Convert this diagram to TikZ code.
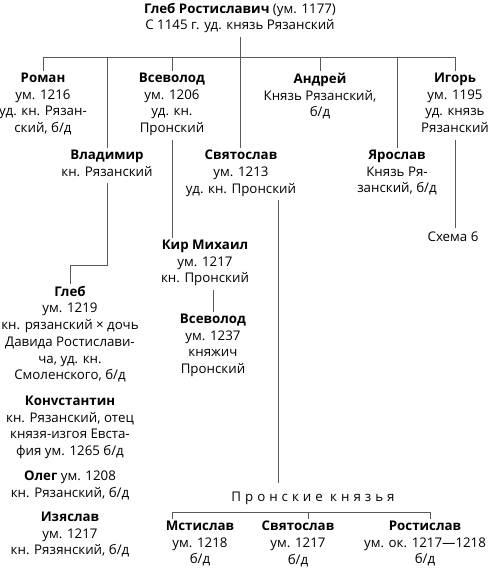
\documentclass[tikz,border=0pt]{standalone}
\usepackage{fontspec}
\setmainfont{Open Sans}
\begin{document}
\begin{tikzpicture}[x=1pt, y=-1pt,
  font=\fontsize{13.3}{16.7}\selectfont,
  person/.style={align=center, anchor=north, yshift=9.2pt, inner xsep=1pt, inner ysep=2pt,
    execute at begin node=\strut, execute at end node=\strut},
  link/.style={draw=black!65, line width=0.7pt}]
\useasboundingbox (0,0) rectangle (490,570);
\node[person] (gleb0) at (240,10) {\textbf{Глеб Ростиславич} (ум. 1177)\\С 1145 г. уд. князь Рязанский};
\node[person] (roman) at (43,80) {\textbf{Роман}\\ум. 1216\\уд. кн. Рязан-\\ский, б/д};
\node[person] (vsevolod1) at (172,80) {\textbf{Всеволод}\\ум. 1206\\уд. кн.\\Пронский};
\node[person] (andrey) at (320,80) {\textbf{Андрей}\\Князь Рязанский,\\б/д};
\node[person] (igor) at (455,80) {\textbf{Игорь}\\ум. 1195\\уд. князь\\Рязанский};
\node[person] (vladimir) at (107,157) {\textbf{Владимир}\\кн. Рязанский};
\node[person] (svyatoslav1) at (241,157) {\textbf{Святослав}\\ум. 1213\\уд. кн. Пронский};
\node[person] (yaroslav) at (397,157) {\textbf{Ярослав}\\Князь Ря-\\занский, б/д};
\node[person] (schema) at (453,237) {Схема 6};
\node[person] (kir) at (205,247) {\textbf{Кир Михаил}\\ум. 1217\\кн. Пронский};
\node[person] (vsevolod2) at (213,321) {\textbf{Всеволод}\\ум. 1237\\княжич\\Пронский};
\node[person] (gleb1) at (70,293) {\textbf{Глеб}\\ум. 1219\\кн. рязанский × дочь\\Давида Ростислави-\\ча, уд. кн.\\Смоленского, б/д};
\node[person] (konst) at (70,403) {\textbf{Конvстантин}\\кн. Рязанский, отец\\князя-изгоя Евста-\\фия ум. 1265 б/д};
\node[person] (oleg) at (70,478) {\textbf{Олег} ум. 1208\\кн. Рязанский, б/д};
\node[person] (izyaslav) at (70,519) {\textbf{Изяслав}\\ум. 1217\\кн. Рязянский, б/д};
\node[person] (pronsk) at (313,497) {\addfontfeature{LetterSpace=30}Пронские князья};
\node[person] (mstislav) at (200,528) {\textbf{Мстислав}\\ум. 1218\\б/д};
\node[person] (svyatoslav2) at (298,528) {\textbf{Святослав}\\ум. 1217\\б/д};
\node[person] (rostislav) at (425,528) {\textbf{Ростислав}\\ум. ок. 1217—1218\\б/д};
\coordinate (bar) at (240,57);
\coordinate (pbar) at (300,512);
\draw[link] (gleb0.south) -- (gleb0.south |- svyatoslav1.north);
\draw[link] (roman.north) |- (igor.north |- bar) -- (igor.north);
\foreach \n in {vladimir, vsevolod1, andrey, yaroslav}
  \draw[link] (\n.north) -- (\n.north |- bar);
\draw[link] (vladimir.south) |- ([yshift=18pt]gleb1.north) -- (gleb1.north);
\draw[link] (vsevolod1.south) -- (vsevolod1.south |- kir.north);
\draw[link] (vsevolod2.north |- kir.south) -- (vsevolod2.north);
\draw[link] (igor.south) -- (igor.south |- schema.north);
\draw[link] ([xshift=37pt]svyatoslav1.south) -- ([xshift=37pt,yshift=5pt]svyatoslav1.south |- pronsk.north);
\draw[link] ([xshift=-28pt]mstislav.north) |- ([xshift=5pt]rostislav.north |- pbar) -- ([xshift=5pt]rostislav.north);
\draw[link] ([xshift=10pt]svyatoslav2.north) -- ([xshift=10pt]svyatoslav2.north |- pbar);
\end{tikzpicture}
\end{document}
